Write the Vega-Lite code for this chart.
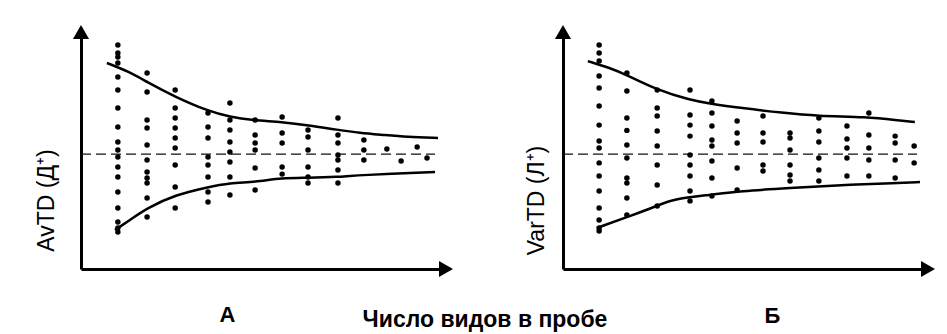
{
  "$schema": "https://vega.github.io/schema/vega-lite/v6.json",
  "background": "white",
  "padding": {"left": 35, "top": 25, "right": 5, "bottom": 0},
  "config": {
    "view": {"stroke": null},
    "font": "Liberation Sans",
    "axis": {"domainColor": "black", "domainWidth": 3, "ticks": false, "labels": false, "grid": false, "titleColor": "black", "titleFont": "Liberation Sans"}
  },
  "title": {"text": "Число видов в пробе", "orient": "bottom", "anchor": "middle", "fontSize": 23, "fontWeight": "bold", "font": "Liberation Sans", "color": "black", "offset": -17, "dx": 0},
  "spacing": 72,
  "datasets": {
    "pts": [
      {"panel":"A","x":10.1,"y":93.7},{"panel":"A","x":10.1,"y":90.4},{"panel":"A","x":10.1,"y":88.7},{"panel":"A","x":10.1,"y":86.2},{"panel":"A","x":10.1,"y":80.3},{"panel":"A","x":10.1,"y":74.9},{"panel":"A","x":10.1,"y":67.4},{"panel":"A","x":10.1,"y":59.4},{"panel":"A","x":10.1,"y":53.1},{"panel":"A","x":10.1,"y":49.8},{"panel":"A","x":10.1,"y":46.9},{"panel":"A","x":10.1,"y":42.7},{"panel":"A","x":10.1,"y":38.5},{"panel":"A","x":10.1,"y":32.2},{"panel":"A","x":10.1,"y":25.5},{"panel":"A","x":10.1,"y":19.7},{"panel":"A","x":10.1,"y":17.2},{"panel":"A","x":10.1,"y":15.5},
      {"panel":"A","x":18.1,"y":82.0},{"panel":"A","x":18.1,"y":74.1},{"panel":"A","x":18.1,"y":62.3},{"panel":"A","x":18.1,"y":59.0},{"panel":"A","x":18.1,"y":51.9},{"panel":"A","x":18.1,"y":45.6},{"panel":"A","x":18.1,"y":40.6},{"panel":"A","x":18.1,"y":38.1},{"panel":"A","x":18.1,"y":36.0},{"panel":"A","x":18.1,"y":29.7},{"panel":"A","x":18.1,"y":21.8},
      {"panel":"A","x":25.8,"y":74.9},{"panel":"A","x":25.8,"y":67.4},{"panel":"A","x":25.8,"y":63.2},{"panel":"A","x":25.8,"y":59.0},{"panel":"A","x":25.8,"y":54.8},{"panel":"A","x":25.8,"y":50.6},{"panel":"A","x":25.8,"y":43.5},{"panel":"A","x":25.8,"y":34.3},{"panel":"A","x":25.8,"y":25.5},
      {"panel":"A","x":34.8,"y":65.3},{"panel":"A","x":34.8,"y":59.4},{"panel":"A","x":34.8,"y":54.8},{"panel":"A","x":34.8,"y":46.9},{"panel":"A","x":34.8,"y":43.5},{"panel":"A","x":34.8,"y":38.5},{"panel":"A","x":34.8,"y":32.2},{"panel":"A","x":34.8,"y":28.0},
      {"panel":"A","x":40.8,"y":69.5},{"panel":"A","x":40.8,"y":62.3},{"panel":"A","x":40.8,"y":58.2},{"panel":"A","x":40.8,"y":53.1},{"panel":"A","x":40.8,"y":49.0},{"panel":"A","x":40.8,"y":44.8},{"panel":"A","x":40.8,"y":38.5},{"panel":"A","x":40.8,"y":31.0},
      {"panel":"A","x":47.7,"y":62.3},{"panel":"A","x":47.7,"y":56.1},{"panel":"A","x":47.7,"y":52.7},{"panel":"A","x":47.7,"y":49.8},{"panel":"A","x":47.7,"y":42.3},{"panel":"A","x":47.7,"y":33.1},
      {"panel":"A","x":55.1,"y":63.6},{"panel":"A","x":55.1,"y":56.9},{"panel":"A","x":55.1,"y":52.7},{"panel":"A","x":55.1,"y":42.7},{"panel":"A","x":55.1,"y":39.7},
      {"panel":"A","x":62.2,"y":58.2},{"panel":"A","x":62.2,"y":55.2},{"panel":"A","x":62.2,"y":49.8},{"panel":"A","x":62.2,"y":42.7},{"panel":"A","x":62.2,"y":38.5},{"panel":"A","x":62.2,"y":36.0},
      {"panel":"A","x":70.4,"y":63.2},{"panel":"A","x":70.4,"y":56.1},{"panel":"A","x":70.4,"y":52.7},{"panel":"A","x":70.4,"y":47.7},{"panel":"A","x":70.4,"y":45.6},{"panel":"A","x":70.4,"y":41.4},{"panel":"A","x":70.4,"y":36.0},
      {"panel":"A","x":77.5,"y":54.0},{"panel":"A","x":77.5,"y":49.8},{"panel":"A","x":77.5,"y":45.6},
      {"panel":"A","x":83.8,"y":50.2},{"panel":"A","x":87.7,"y":45.2},{"panel":"A","x":92.1,"y":51.0},{"panel":"A","x":94.8,"y":46.4},
      {"panel":"B","x":9.9,"y":93.7},{"panel":"B","x":9.9,"y":90.4},{"panel":"B","x":9.9,"y":87.0},{"panel":"B","x":9.9,"y":80.8},{"panel":"B","x":9.9,"y":75.7},{"panel":"B","x":9.9,"y":68.2},{"panel":"B","x":9.9,"y":60.2},{"panel":"B","x":9.9,"y":53.6},{"panel":"B","x":9.9,"y":50.6},{"panel":"B","x":9.9,"y":44.4},{"panel":"B","x":9.9,"y":38.9},{"panel":"B","x":9.9,"y":32.6},{"panel":"B","x":9.9,"y":25.5},{"panel":"B","x":9.9,"y":20.5},{"panel":"B","x":9.9,"y":17.2},{"panel":"B","x":9.9,"y":15.9},
      {"panel":"B","x":17.5,"y":82.0},{"panel":"B","x":17.5,"y":74.5},{"panel":"B","x":17.5,"y":63.2},{"panel":"B","x":17.5,"y":58.0},{"panel":"B","x":17.5,"y":51.9},{"panel":"B","x":17.5,"y":46.4},{"panel":"B","x":17.5,"y":38.1},{"panel":"B","x":17.5,"y":36.0},{"panel":"B","x":17.5,"y":29.7},{"panel":"B","x":17.5,"y":22.6},
      {"panel":"B","x":25.8,"y":74.9},{"panel":"B","x":25.8,"y":67.4},{"panel":"B","x":25.8,"y":64.0},{"panel":"B","x":25.8,"y":57.7},{"panel":"B","x":25.8,"y":51.5},{"panel":"B","x":25.8,"y":43.5},{"panel":"B","x":25.8,"y":35.1},{"panel":"B","x":25.8,"y":26.4},
      {"panel":"B","x":34.8,"y":74.9},{"panel":"B","x":34.8,"y":64.4},{"panel":"B","x":34.8,"y":60.2},{"panel":"B","x":34.8,"y":55.6},{"panel":"B","x":34.8,"y":47.7},{"panel":"B","x":34.8,"y":43.5},{"panel":"B","x":34.8,"y":38.9},{"panel":"B","x":34.8,"y":32.6},{"panel":"B","x":34.8,"y":28.5},
      {"panel":"B","x":40.8,"y":70.3},{"panel":"B","x":40.8,"y":65.3},{"panel":"B","x":40.8,"y":59.8},{"panel":"B","x":40.8,"y":54.0},{"panel":"B","x":40.8,"y":51.5},{"panel":"B","x":40.8,"y":45.2},{"panel":"B","x":40.8,"y":38.1},{"panel":"B","x":40.8,"y":30.5},
      {"panel":"B","x":47.7,"y":61.9},{"panel":"B","x":47.7,"y":56.9},{"panel":"B","x":47.7,"y":52.7},{"panel":"B","x":47.7,"y":42.3},{"panel":"B","x":47.7,"y":33.1},
      {"panel":"B","x":54.8,"y":64.0},{"panel":"B","x":54.8,"y":56.9},{"panel":"B","x":54.8,"y":53.1},{"panel":"B","x":54.8,"y":43.5},{"panel":"B","x":54.8,"y":41.0},
      {"panel":"B","x":62.2,"y":56.9},{"panel":"B","x":62.2,"y":54.8},{"panel":"B","x":62.2,"y":49.8},{"panel":"B","x":62.2,"y":43.5},{"panel":"B","x":62.2,"y":39.3},{"panel":"B","x":62.2,"y":36.8},
      {"panel":"B","x":70.1,"y":63.2},{"panel":"B","x":70.1,"y":57.7},{"panel":"B","x":70.1,"y":53.1},{"panel":"B","x":70.1,"y":46.4},{"panel":"B","x":70.1,"y":41.4},{"panel":"B","x":70.1,"y":36.8},
      {"panel":"B","x":77.8,"y":59.8},{"panel":"B","x":77.8,"y":54.4},{"panel":"B","x":77.8,"y":50.6},{"panel":"B","x":77.8,"y":46.4},{"panel":"B","x":77.8,"y":38.9},
      {"panel":"B","x":83.8,"y":65.3},{"panel":"B","x":83.8,"y":56.1},{"panel":"B","x":83.8,"y":50.6},{"panel":"B","x":83.8,"y":45.6},{"panel":"B","x":83.8,"y":38.9},
      {"panel":"B","x":91.0,"y":55.6},{"panel":"B","x":91.0,"y":52.7},{"panel":"B","x":91.0,"y":45.6},{"panel":"B","x":91.0,"y":38.1},
      {"panel":"B","x":96.2,"y":51.5},{"panel":"B","x":96.2,"y":44.4}
    ],
    "curves": [
      {"panel":"A","curve":"upper","x":7.1,"y":86.2},{"panel":"A","curve":"upper","x":13.4,"y":82.4},{"panel":"A","curve":"upper","x":18.1,"y":78.2},{"panel":"A","curve":"upper","x":25.8,"y":72.0},{"panel":"A","curve":"upper","x":34.8,"y":66.1},{"panel":"A","curve":"upper","x":40.8,"y":63.6},{"panel":"A","curve":"upper","x":47.1,"y":62.3},{"panel":"A","curve":"upper","x":55.1,"y":61.5},{"panel":"A","curve":"upper","x":62.2,"y":60.2},{"panel":"A","curve":"upper","x":70.4,"y":58.2},{"panel":"A","curve":"upper","x":76.4,"y":56.9},{"panel":"A","curve":"upper","x":82.7,"y":56.1},{"panel":"A","curve":"upper","x":89.3,"y":55.2},{"panel":"A","curve":"upper","x":97.8,"y":54.8},
      {"panel":"A","curve":"lower","x":9.3,"y":16.3},{"panel":"A","curve":"lower","x":13.4,"y":20.5},{"panel":"A","curve":"lower","x":18.1,"y":25.5},{"panel":"A","curve":"lower","x":25.8,"y":31.0},{"panel":"A","curve":"lower","x":34.8,"y":34.3},{"panel":"A","curve":"lower","x":40.8,"y":36.0},{"panel":"A","curve":"lower","x":47.7,"y":36.4},{"panel":"A","curve":"lower","x":55.1,"y":38.1},{"panel":"A","curve":"lower","x":62.2,"y":38.1},{"panel":"A","curve":"lower","x":70.4,"y":38.5},{"panel":"A","curve":"lower","x":76.4,"y":39.3},{"panel":"A","curve":"lower","x":97.0,"y":40.6},
      {"panel":"B","curve":"upper","x":6.8,"y":87.0},{"panel":"B","curve":"upper","x":12.9,"y":84.1},{"panel":"B","curve":"upper","x":17.5,"y":81.2},{"panel":"B","curve":"upper","x":25.8,"y":74.9},{"panel":"B","curve":"upper","x":34.8,"y":70.7},{"panel":"B","curve":"upper","x":40.8,"y":69.0},{"panel":"B","curve":"upper","x":48.5,"y":67.4},{"panel":"B","curve":"upper","x":60.3,"y":65.3},{"panel":"B","curve":"upper","x":69.6,"y":64.0},{"panel":"B","curve":"upper","x":83.3,"y":63.6},{"panel":"B","curve":"upper","x":91.5,"y":62.3},{"panel":"B","curve":"upper","x":96.4,"y":61.5},
      {"panel":"B","curve":"lower","x":9.3,"y":17.2},{"panel":"B","curve":"lower","x":19.2,"y":22.6},{"panel":"B","curve":"lower","x":25.8,"y":26.4},{"panel":"B","curve":"lower","x":30.1,"y":29.3},{"panel":"B","curve":"lower","x":40.3,"y":31.0},{"panel":"B","curve":"lower","x":48.5,"y":32.6},{"panel":"B","curve":"lower","x":62.2,"y":33.9},{"panel":"B","curve":"lower","x":75.9,"y":35.1},{"panel":"B","curve":"lower","x":91.5,"y":36.0},{"panel":"B","curve":"lower","x":97.8,"y":36.4}
    ],
    "means": [
      {"panel":"A","x0":0,"x1":97,"y":48.1},
      {"panel":"B","x0":0,"x1":97,"y":48.1}
    ]
  },
  "hconcat": [
    {
      "width": 365, "height": 239,
      "layer": [
        {
          "data": {"name": "means"},
          "transform": [{"filter": "datum.panel == 'A'"}],
          "mark": {"type": "rule", "color": "#111111", "strokeWidth": 1.3, "strokeDash": [10, 5]},
          "encoding": {
            "x": {"field": "x0", "type": "quantitative", "scale": {"domain": [0, 100], "nice": false},
                  "axis": {"title": "А", "titleFontSize": 22, "titleFontWeight": "bold", "titleX": 146, "titleY": 52, "titleBaseline": "alphabetic", "titleAlign": "center"}},
            "x2": {"field": "x1"},
            "y": {"field": "y", "type": "quantitative", "scale": {"domain": [0, 100], "nice": false},
                  "axis": {"title": "AvTD (Д⁺)", "titleFontSize": 23, "titleFontWeight": "normal", "titlePadding": 23, "titleY": 170, "titleAlign": "center"}}
          }
        },
        {
          "data": {"name": "pts"},
          "transform": [{"filter": "datum.panel == 'A'"}],
          "mark": {"type": "circle", "size": 30, "color": "black", "opacity": 1},
          "encoding": {
            "x": {"field": "x", "type": "quantitative"},
            "y": {"field": "y", "type": "quantitative"}
          }
        },
        {
          "data": {"name": "curves"},
          "transform": [{"filter": "datum.panel == 'A'"}],
          "mark": {"type": "line", "color": "black", "strokeWidth": 2.5, "interpolate": "basis"},
          "encoding": {
            "x": {"field": "x", "type": "quantitative"},
            "y": {"field": "y", "type": "quantitative"},
            "detail": {"field": "curve"}
          }
        },
        {
          "data": {"values": [{}]},
          "mark": {"type": "point", "shape": "triangle-up", "size": 260, "filled": true, "color": "black", "opacity": 1, "yOffset": 2},
          "encoding": {"x": {"datum": 0, "type": "quantitative"}, "y": {"datum": 100, "type": "quantitative"}}
        },
        {
          "data": {"values": [{}]},
          "mark": {"type": "point", "shape": "triangle-right", "size": 260, "filled": true, "color": "black", "opacity": 1},
          "encoding": {"x": {"datum": 100, "type": "quantitative"}, "y": {"datum": 0, "type": "quantitative"}}
        }
      ]
    },
    {
      "width": 365, "height": 239,
      "layer": [
        {
          "data": {"name": "means"},
          "transform": [{"filter": "datum.panel == 'B'"}],
          "mark": {"type": "rule", "color": "#111111", "strokeWidth": 1.3, "strokeDash": [10, 5]},
          "encoding": {
            "x": {"field": "x0", "type": "quantitative", "scale": {"domain": [0, 100], "nice": false},
                  "axis": {"title": "Б", "titleFontSize": 22, "titleFontWeight": "bold", "titleX": 209, "titleY": 53, "titleBaseline": "alphabetic", "titleAlign": "center"}},
            "x2": {"field": "x1"},
            "y": {"field": "y", "type": "quantitative", "scale": {"domain": [0, 100], "nice": false},
                  "axis": {"title": "VarTD (Л⁺)", "titleFontSize": 23, "titleFontWeight": "normal", "titlePadding": 15, "titleY": 170, "titleAlign": "center"}}
          }
        },
        {
          "data": {"name": "pts"},
          "transform": [{"filter": "datum.panel == 'B'"}],
          "mark": {"type": "circle", "size": 30, "color": "black", "opacity": 1},
          "encoding": {
            "x": {"field": "x", "type": "quantitative"},
            "y": {"field": "y", "type": "quantitative"}
          }
        },
        {
          "data": {"name": "curves"},
          "transform": [{"filter": "datum.panel == 'B'"}],
          "mark": {"type": "line", "color": "black", "strokeWidth": 2.5, "interpolate": "basis"},
          "encoding": {
            "x": {"field": "x", "type": "quantitative"},
            "y": {"field": "y", "type": "quantitative"},
            "detail": {"field": "curve"}
          }
        },
        {
          "data": {"values": [{}]},
          "mark": {"type": "point", "shape": "triangle-up", "size": 260, "filled": true, "color": "black", "opacity": 1, "yOffset": 2},
          "encoding": {"x": {"datum": 0, "type": "quantitative"}, "y": {"datum": 100, "type": "quantitative"}}
        },
        {
          "data": {"values": [{}]},
          "mark": {"type": "point", "shape": "triangle-right", "size": 260, "filled": true, "color": "black", "opacity": 1},
          "encoding": {"x": {"datum": 100, "type": "quantitative"}, "y": {"datum": 0, "type": "quantitative"}}
        }
      ]
    }
  ]
}
